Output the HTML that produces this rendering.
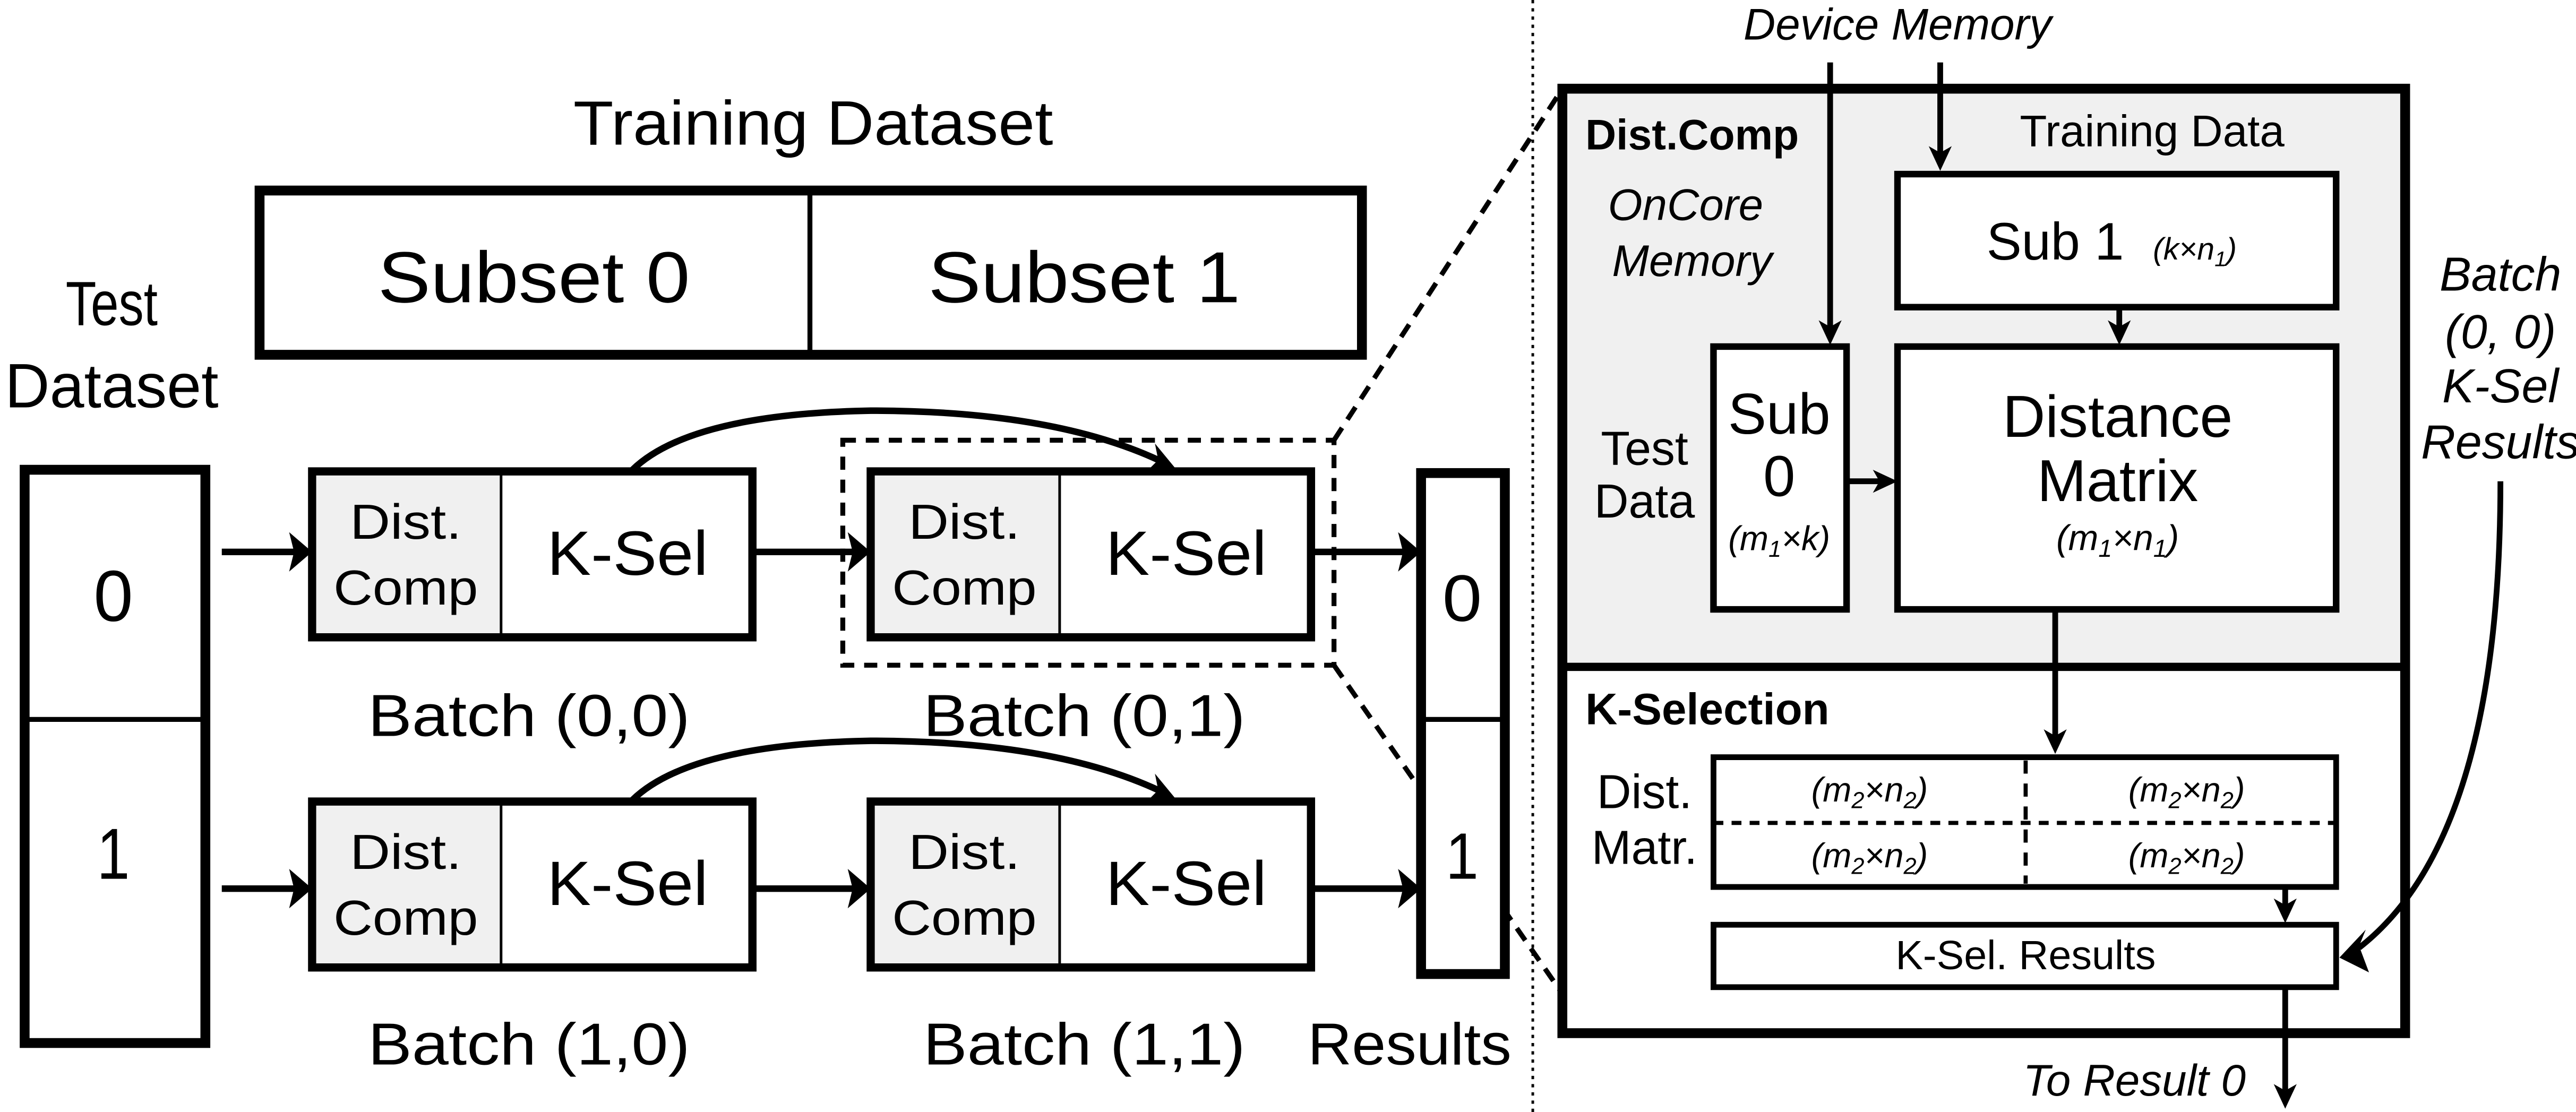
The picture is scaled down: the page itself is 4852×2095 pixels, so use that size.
<!DOCTYPE html>
<html><head><meta charset="utf-8"><style>
html,body{margin:0;padding:0;background:#fff;}
svg{display:block;}
text{font-family:"Liberation Sans",Arial,sans-serif;fill:#000;}
</style></head><body>
<svg width="4852" height="2095" viewBox="0 0 1568 677" preserveAspectRatio="none" xmlns="http://www.w3.org/2000/svg">
<g id="left">
<text x="495" y="88" text-anchor="middle" font-size="38" textLength="292" lengthAdjust="spacingAndGlyphs">Training Dataset</text>
<rect x="158" y="116" width="671" height="100" fill="#fff" stroke="#000" stroke-width="6"/>
<line x1="493" y1="116" x2="493" y2="216" stroke="#000" stroke-width="3"/>
<text x="325" y="184" text-anchor="middle" font-size="44" textLength="190" lengthAdjust="spacingAndGlyphs">Subset 0</text>
<text x="660" y="184" text-anchor="middle" font-size="44" textLength="190" lengthAdjust="spacingAndGlyphs">Subset 1</text>
<text x="68" y="198" text-anchor="middle" font-size="38" textLength="56" lengthAdjust="spacingAndGlyphs">Test</text>
<text x="68" y="248" text-anchor="middle" font-size="38" textLength="130" lengthAdjust="spacingAndGlyphs">Dataset</text>
<rect x="15" y="286" width="110" height="349" fill="#fff" stroke="#000" stroke-width="6"/>
<line x1="15" y1="438" x2="125" y2="438" stroke="#000" stroke-width="3"/>
<text x="69" y="378" text-anchor="middle" font-size="44" textLength="24" lengthAdjust="spacingAndGlyphs">0</text>
<text x="69" y="535" text-anchor="middle" font-size="44" textLength="20" lengthAdjust="spacingAndGlyphs">1</text>

<line x1="812" y1="268" x2="951" y2="54" stroke="#000" stroke-width="3" stroke-dasharray="9,6"/>
<line x1="812" y1="405" x2="951" y2="605" stroke="#000" stroke-width="3" stroke-dasharray="9,6"/>

<rect x="865" y="288" width="51" height="305" fill="#fff" stroke="#000" stroke-width="6"/>
<line x1="865" y1="438" x2="916" y2="438" stroke="#000" stroke-width="3"/>
<text x="890" y="378" text-anchor="middle" font-size="40" textLength="24" lengthAdjust="spacingAndGlyphs">0</text>
<text x="890" y="535" text-anchor="middle" font-size="40" textLength="20" lengthAdjust="spacingAndGlyphs">1</text>

<g id="b1">
<rect x="190" y="287" width="268" height="101" fill="#fff" stroke="#000" stroke-width="5"/>
<rect x="192.5" y="289.5" width="112" height="96" fill="#f0f0f0"/>
<line x1="305" y1="287" x2="305" y2="388" stroke="#000" stroke-width="1.6"/>
<text x="247" y="328" text-anchor="middle" font-size="30" textLength="68" lengthAdjust="spacingAndGlyphs">Dist.</text>
<text x="247" y="368" text-anchor="middle" font-size="30" textLength="88" lengthAdjust="spacingAndGlyphs">Comp</text>
<text x="382" y="350" text-anchor="middle" font-size="38" textLength="98" lengthAdjust="spacingAndGlyphs">K-Sel</text>
</g>
<use href="#b1" x="340" y="0"/>
<use href="#b1" x="0" y="201"/>
<use href="#b1" x="340" y="201"/>

<rect x="513" y="268" width="299" height="137" fill="none" stroke="#000" stroke-width="3" stroke-dasharray="8,6"/>

<g stroke="#000" stroke-width="4" fill="none">
<line x1="135" y1="336" x2="180" y2="336"/>
<line x1="460" y1="336" x2="520" y2="336"/>
<line x1="800" y1="336" x2="855" y2="336"/>
<line x1="135" y1="541" x2="180" y2="541"/>
<line x1="460" y1="541" x2="520" y2="541"/>
<line x1="800" y1="541" x2="855" y2="541"/>
<path d="M385 286 Q 420 252 530 250 Q 640 250 705 280"/>
<path d="M385 487 Q 420 453 530 451 Q 640 451 705 481"/>
</g>
<g fill="#000">
<path d="M190 336 L176 324 L179 336 L176 348 Z"/>
<path d="M530 336 L516 324 L519 336 L516 348 Z"/>
<path d="M865 336 L851 324 L854 336 L851 348 Z"/>
<path d="M190 541 L176 529 L179 541 L176 553 Z"/>
<path d="M530 541 L516 529 L519 541 L516 553 Z"/>
<path d="M865 541 L851 529 L854 541 L851 553 Z"/>
<path d="M717 287 L703 270 L705 280 L698 287 Z"/>
<path d="M717 488 L703 471 L705 481 L698 488 Z"/>
</g>

<text x="322" y="448" text-anchor="middle" font-size="36" textLength="196" lengthAdjust="spacingAndGlyphs">Batch (0,0)</text>
<text x="660" y="448" text-anchor="middle" font-size="36" textLength="196" lengthAdjust="spacingAndGlyphs">Batch (0,1)</text>
<text x="322" y="648" text-anchor="middle" font-size="36" textLength="196" lengthAdjust="spacingAndGlyphs">Batch (1,0)</text>
<text x="660" y="648" text-anchor="middle" font-size="36" textLength="196" lengthAdjust="spacingAndGlyphs">Batch (1,1)</text>
<text x="858" y="648" text-anchor="middle" font-size="36" textLength="124" lengthAdjust="spacingAndGlyphs">Results</text>
</g>

<line x1="933" y1="0" x2="933" y2="677" stroke="#000" stroke-width="1.6" stroke-dasharray="2,3"/>

<rect x="951" y="54" width="513" height="352" fill="#f0f0f0"/>
<rect x="951" y="54" width="513" height="575" fill="none" stroke="#000" stroke-width="6"/>
<line x1="951" y1="406" x2="1464" y2="406" stroke="#000" stroke-width="5"/>
<text x="1155" y="24" text-anchor="middle" font-size="27" font-style="italic">Device Memory</text>
<text x="965" y="91" font-size="26" font-weight="bold">Dist.Comp</text>
<text x="1026" y="134" text-anchor="middle" font-size="27" font-style="italic">OnCore</text>
<text x="1030" y="168" text-anchor="middle" font-size="27" font-style="italic">Memory</text>
<text x="1310" y="89" text-anchor="middle" font-size="27">Training Data</text>
<rect x="1155" y="106" width="267" height="81" fill="#fff" stroke="#000" stroke-width="4"/>
<text x="1251" y="158" text-anchor="middle" font-size="32">Sub 1</text>
<text x="1336" y="158" text-anchor="middle" font-size="19" font-style="italic">(k×n<tspan font-size="13" dy="4">1</tspan><tspan dy="-4">)</tspan></text>
<rect x="1155" y="211" width="267" height="160" fill="#fff" stroke="#000" stroke-width="4"/>
<text x="1289" y="266" text-anchor="middle" font-size="36">Distance</text>
<text x="1289" y="305" text-anchor="middle" font-size="36">Matrix</text>
<text x="1289" y="335" text-anchor="middle" font-size="22" font-style="italic">(m<tspan font-size="15" dy="4">1</tspan><tspan dy="-4">×n</tspan><tspan font-size="15" dy="4">1</tspan><tspan dy="-4">)</tspan></text>
<rect x="1043" y="211" width="81" height="160" fill="#fff" stroke="#000" stroke-width="4"/>
<text x="1083" y="264" text-anchor="middle" font-size="35">Sub</text>
<text x="1083" y="302" text-anchor="middle" font-size="35">0</text>
<text x="1083" y="335" text-anchor="middle" font-size="21" font-style="italic">(m<tspan font-size="14" dy="4">1</tspan><tspan dy="-4">×k)</tspan></text>
<text x="1001" y="283" text-anchor="middle" font-size="29">Test</text>
<text x="1001" y="315" text-anchor="middle" font-size="29">Data</text>
<text x="965" y="441" font-size="27" font-weight="bold">K-Selection</text>
<text x="1001" y="492" text-anchor="middle" font-size="29">Dist.</text>
<text x="1001" y="526" text-anchor="middle" font-size="29">Matr.</text>
<rect x="1043" y="461" width="379" height="79" fill="#fff" stroke="#000" stroke-width="3.5"/>
<line x1="1043" y1="501" x2="1422" y2="501" stroke="#000" stroke-width="2.5" stroke-dasharray="6,5"/>
<line x1="1233" y1="463" x2="1233" y2="538" stroke="#000" stroke-width="2.5" stroke-dasharray="8,6"/>
<g font-size="21" font-style="italic" text-anchor="middle">
<text x="1138" y="488">(m<tspan font-size="14" dy="4">2</tspan><tspan dy="-4">×n</tspan><tspan font-size="14" dy="4">2</tspan><tspan dy="-4">)</tspan></text>
<text x="1331" y="488">(m<tspan font-size="14" dy="4">2</tspan><tspan dy="-4">×n</tspan><tspan font-size="14" dy="4">2</tspan><tspan dy="-4">)</tspan></text>
<text x="1138" y="528">(m<tspan font-size="14" dy="4">2</tspan><tspan dy="-4">×n</tspan><tspan font-size="14" dy="4">2</tspan><tspan dy="-4">)</tspan></text>
<text x="1331" y="528">(m<tspan font-size="14" dy="4">2</tspan><tspan dy="-4">×n</tspan><tspan font-size="14" dy="4">2</tspan><tspan dy="-4">)</tspan></text>
</g>
<rect x="1043" y="563" width="379" height="38" fill="#fff" stroke="#000" stroke-width="3.5"/>
<text x="1233" y="590" text-anchor="middle" font-size="25">K-Sel. Results</text>
<text x="1367" y="667" text-anchor="end" font-size="27" font-style="italic">To Result 0</text>
<g font-size="29" font-style="italic" text-anchor="middle">
<text x="1522" y="177">Batch</text>
<text x="1522" y="212">(0, 0)</text>
<text x="1522" y="245">K-Sel</text>
<text x="1522" y="279">Results</text>
</g>
<g stroke="#000" stroke-width="3.5" fill="none">
<line x1="1114" y1="38" x2="1114" y2="200"/>
<line x1="1181" y1="38" x2="1181" y2="94"/>
<line x1="1290" y1="187" x2="1290" y2="200"/>
<line x1="1124" y1="293" x2="1145" y2="293"/>
<line x1="1251" y1="372" x2="1251" y2="448"/>
<line x1="1391" y1="540" x2="1391" y2="552"/>
<line x1="1391" y1="601" x2="1391" y2="664"/>
<path d="M1522 293 Q 1522 510 1436 577"/>
</g>
<g fill="#000">
<path d="M1114 210 L1107 195 L1114 199 L1121 195 Z"/>
<path d="M1181 104 L1174 89 L1181 93 L1188 89 Z"/>
<path d="M1290 210 L1283 195 L1290 199 L1297 195 Z"/>
<path d="M1155 293 L1140 286 L1144 293 L1140 300 Z"/>
<path d="M1251 459 L1244 444 L1251 448 L1258 444 Z"/>
<path d="M1391 562 L1384 547 L1391 551 L1398 547 Z"/>
<path d="M1391 675 L1384 660 L1391 664 L1398 660 Z"/>
<path d="M1424 583 L1440 566 L1436 576 L1442 592 Z"/>
</g>
</svg>
</body></html>
